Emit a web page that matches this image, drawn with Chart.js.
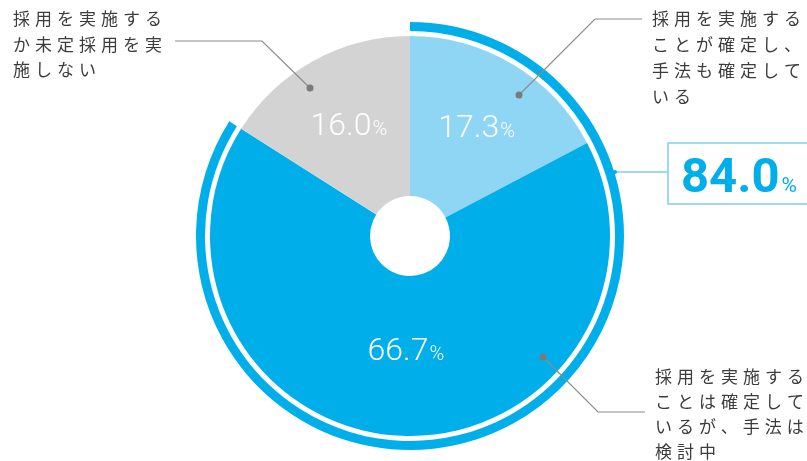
<!DOCTYPE html>
<html>
<head>
<meta charset="utf-8">
<script src="https://cdn.jsdelivr.net/npm/chart.js@4.4.1/dist/chart.umd.min.js"></script>
<style>
  html, body { margin: 0; padding: 0; background: #fff; }
  #wrap { position: relative; width: 807px; height: 461px; }
</style>
</head>
<body>
<div id="wrap"><canvas id="pieChart" width="807" height="461"></canvas></div>
<script>
// slices, clockwise from 12 o'clock
const categories = [
  '採用を実施することが確定し、手法も確定している',
  '採用を実施することは確定しているが、手法は検討中',
  '採用を実施するか未定採用を実施しない'
];
const shares = [17.3, 66.7, 16.0];
const confirmedShare = 84.0;   // 17.3 + 66.7, the outer arc

const BLUE = '#00aeea';
const LIGHT = '#8fd6f5';
const GRAY = '#d3d3d3';
const sliceColors = [LIGHT, BLUE, GRAY];
const labelRadius = [128, 113, 128];

// callout text, line by line
const calloutLines = [
  ['採用を実施する', 'ことが確定し、', '手法も確定して', 'いる'],
  ['採用を実施する', 'ことは確定して', 'いるが、手法は', '検討中'],
  ['採用を実施する', 'か未定採用を実', '施しない']
];

const calloutPlugin = {
  id: 'callouts',
  afterDraw(chart) {
    const ctx = chart.ctx;
    const pie = chart.getDatasetMeta(2);
    ctx.save();

    // percentage labels inside slices
    pie.data.forEach((arc, i) => {
      const mid = (arc.startAngle + arc.endAngle) / 2;
      const x = arc.x + Math.cos(mid) * labelRadius[i];
      const y = arc.y + Math.sin(mid) * labelRadius[i];
      const num = shares[i].toFixed(1);
      ctx.font = '300 32px Roboto, "Noto Sans", sans-serif';
      const w1 = ctx.measureText(num).width;
      ctx.font = '300 20px Roboto, "Noto Sans", sans-serif';
      const w2 = ctx.measureText('%').width;
      const left = x - (w1 + w2) / 2;
      ctx.fillStyle = '#fff';
      ctx.textBaseline = 'alphabetic';
      ctx.textAlign = 'left';
      ctx.font = '300 32px Roboto, "Noto Sans", sans-serif';
      ctx.fillText(num, left, y + 11);
      ctx.font = '300 20px Roboto, "Noto Sans", sans-serif';
      ctx.fillText('%', left + w1 + 1, y + 11);
    });

    // leader lines
    ctx.strokeStyle = '#8c8c8c';
    ctx.lineWidth = 1.2;
    const leaders = [
      [[642, 19], [595, 19], [519, 95]],
      [[645, 412], [598, 412], [543, 357]],
      [[175, 41], [262, 41], [310, 88]]
    ];
    leaders.forEach(pts => {
      ctx.beginPath();
      ctx.moveTo(pts[0][0], pts[0][1]);
      ctx.lineTo(pts[1][0], pts[1][1]);
      ctx.lineTo(pts[2][0], pts[2][1]);
      ctx.stroke();
      ctx.fillStyle = '#7a7a7a';
      ctx.beginPath();
      ctx.arc(pts[2][0], pts[2][1], 3.5, 0, Math.PI * 2);
      ctx.fill();
    });

    // category text
    ctx.fillStyle = '#3c3c3c';
    ctx.font = '17px "Noto Sans CJK JP", sans-serif';
    ctx.textBaseline = 'middle';
    ctx.textAlign = 'left';
    ctx.letterSpacing = '5px';
    const textPos = [[652, 19, 26], [655, 377, 25], [13, 19, 25.5]];
    calloutLines.forEach((lines, i) => {
      const [tx, ty, lh] = textPos[i];
      lines.forEach((ln, j) => ctx.fillText(ln, tx, ty + j * lh));
    });
    ctx.letterSpacing = '0px';

    // 84.0% box
    ctx.strokeStyle = '#7fcff0';
    ctx.lineWidth = 1.5;
    ctx.beginPath();
    ctx.moveTo(615, 172);
    ctx.lineTo(668, 172);
    ctx.stroke();
    ctx.strokeRect(668, 143, 160, 61);
    ctx.fillStyle = BLUE;
    ctx.beginPath();
    ctx.arc(615, 172, 2, 0, Math.PI * 2);
    ctx.fill();
    ctx.textBaseline = 'alphabetic';
    ctx.font = 'bold 49px Roboto, "Noto Sans", sans-serif';
    const big = confirmedShare.toFixed(1);
    ctx.fillText(big, 681, 192);
    const bw = ctx.measureText(big).width;
    ctx.font = '21px Roboto, "Noto Sans", sans-serif';
    ctx.fillText('%', 681 + bw + 2, 192);

    ctx.restore();
  }
};

new Chart(document.getElementById('pieChart'), {
  type: 'doughnut',
  data: {
    labels: categories,
    datasets: [
      {
        // outer arc for the confirmed total
        data: [confirmedShare, 100 - confirmedShare],
        backgroundColor: [BLUE, 'rgba(0,0,0,0)'],
        borderWidth: 0,
        weight: 9
      },
      {
        // white gap
        data: [100],
        backgroundColor: ['rgba(0,0,0,0)'],
        borderWidth: 0,
        weight: 5
      },
      {
        data: shares,
        backgroundColor: sliceColors,
        borderWidth: 0,
        weight: 160
      }
    ]
  },
  options: {
    responsive: false,
    devicePixelRatio: 1,
    animation: false,
    cutout: 40,
    layout: { padding: { top: 22, bottom: 11, left: 13, right: 0 } },
    plugins: {
      legend: { display: false },
      tooltip: { enabled: false }
    }
  },
  plugins: [calloutPlugin]
});
</script>
</body>
</html>
